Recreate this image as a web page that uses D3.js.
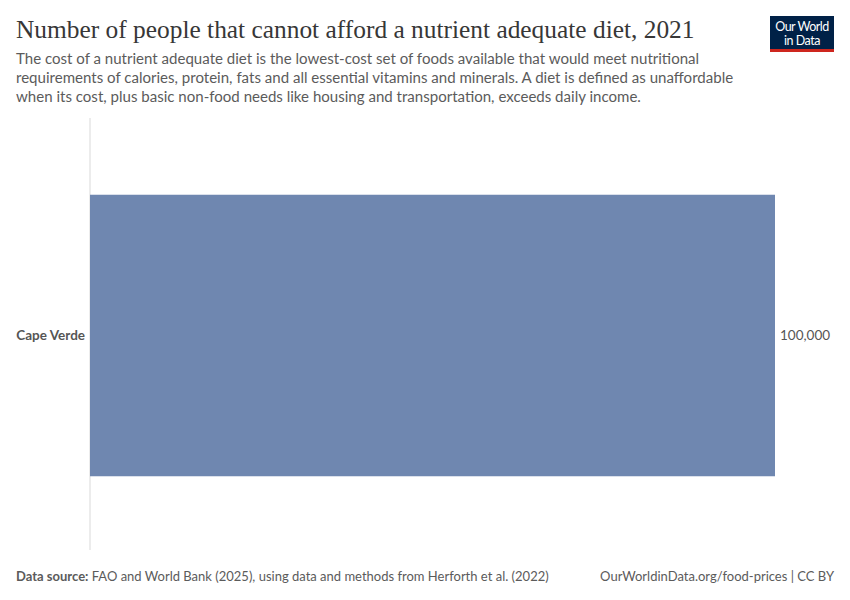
<!DOCTYPE html>
<html>
<head>
<meta charset="utf-8">
<script src="https://cdn.jsdelivr.net/npm/d3@7"></script>
<style>
  body { margin: 0; background: #fff; }
  svg { display: block; }
</style>
</head>
<body>
<svg id="chart" width="850" height="600"></svg>
<script>
const countries = ['Cape Verde'];
const people = [100000];

const width = 850;
const height = 600;
const margin = {top: 118, right: 75, bottom: 50, left: 90};

const svg = d3.select('#chart');

// header
svg.append('text')
    .attr('x', 16).attr('y', 38)
    .attr('font-family', '"Liberation Serif", "DejaVu Serif", serif')
    .attr('font-size', 25.4)
    .attr('fill', '#373737')
    .text('Number of people that cannot afford a nutrient adequate diet, 2021');

const subtitle = [
    'The cost of a nutrient adequate diet is the lowest-cost set of foods available that would meet nutritional',
    'requirements of calories, protein, fats and all essential vitamins and minerals. A diet is defined as unaffordable',
    'when its cost, plus basic non-food needs like housing and transportation, exceeds daily income.'
];
svg.append('g').selectAll('text')
    .data(subtitle)
    .enter()
    .append('text')
    .attr('x', 16)
    .attr('y', (d, i) => 64 + i * 19)
    .attr('font-family', 'Lato, sans-serif')
    .attr('font-size', 15.05)
    .attr('fill', '#5b5b5b')
    .text(d => d);

// logo
const logo = svg.append('g').attr('transform', 'translate(770,16)');
logo.append('rect').attr('width', 64).attr('height', 36).attr('fill', '#002147');
logo.append('rect').attr('y', 33).attr('width', 64).attr('height', 3).attr('fill', '#ce261e');
logo.append('text').attr('x', 32).attr('y', 15).attr('text-anchor', 'middle')
    .attr('font-family', 'Lato, sans-serif').attr('font-size', 12.5).attr('fill', '#fff')
    .attr('letter-spacing', -0.5).text('Our World');
logo.append('text').attr('x', 32).attr('y', 28.5).attr('text-anchor', 'middle')
    .attr('font-family', 'Lato, sans-serif').attr('font-size', 12.5).attr('fill', '#fff')
    .attr('letter-spacing', -0.5).text('in Data');

// chart
const x = d3.scaleLinear()
    .domain([0, d3.max(people)])
    .range([margin.left, width - margin.right]);

const y = d3.scaleBand()
    .domain(countries)
    .range([margin.top, height - margin.bottom])
    .paddingInner(0)
    .paddingOuter(0.27);

svg.append('line')
    .attr('x1', x(0)).attr('x2', x(0))
    .attr('y1', margin.top).attr('y2', height - margin.bottom)
    .attr('stroke', '#d9d9d9');

svg.append('g').selectAll('rect')
    .data(countries)
    .enter()
    .append('rect')
    .attr('x', x(0))
    .attr('y', d => y(d) + 1)
    .attr('width', (d, i) => x(people[i]) - x(0))
    .attr('height', y.bandwidth() + 1)
    .attr('fill', '#6f87b0');

svg.append('g').selectAll('text')
    .data(countries)
    .enter()
    .append('text')
    .attr('x', x(0) - 5)
    .attr('y', d => y(d) + y.bandwidth() / 2 + 1)
    .attr('dy', '0.35em')
    .attr('text-anchor', 'end')
    .attr('font-family', 'Lato, sans-serif')
    .attr('font-size', 13.5)
    .attr('font-weight', 'bold')
    .attr('fill', '#555')
    .text(d => d);

svg.append('g').selectAll('text')
    .data(people)
    .enter()
    .append('text')
    .attr('x', d => x(d) + 5)
    .attr('y', (d, i) => y(countries[i]) + y.bandwidth() / 2 + 1)
    .attr('dy', '0.35em')
    .attr('font-family', 'Lato, sans-serif')
    .attr('font-size', 13.5)
    .attr('fill', '#555')
    .text(d => d3.format(',')(d));

// footer
const footer = svg.append('text')
    .attr('x', 16).attr('y', 581)
    .attr('font-family', 'Lato, sans-serif')
    .attr('font-size', 13)
    .attr('fill', '#5b5b5b');
footer.append('tspan').attr('font-weight', 'bold').text('Data source:');
footer.append('tspan').text(' FAO and World Bank (2025), using data and methods from Herforth et al. (2022)');

svg.append('text')
    .attr('x', 834).attr('y', 581)
    .attr('text-anchor', 'end')
    .attr('font-family', 'Lato, sans-serif')
    .attr('font-size', 13)
    .attr('fill', '#5b5b5b')
    .text('OurWorldinData.org/food-prices | CC BY');
</script>
</body>
</html>
